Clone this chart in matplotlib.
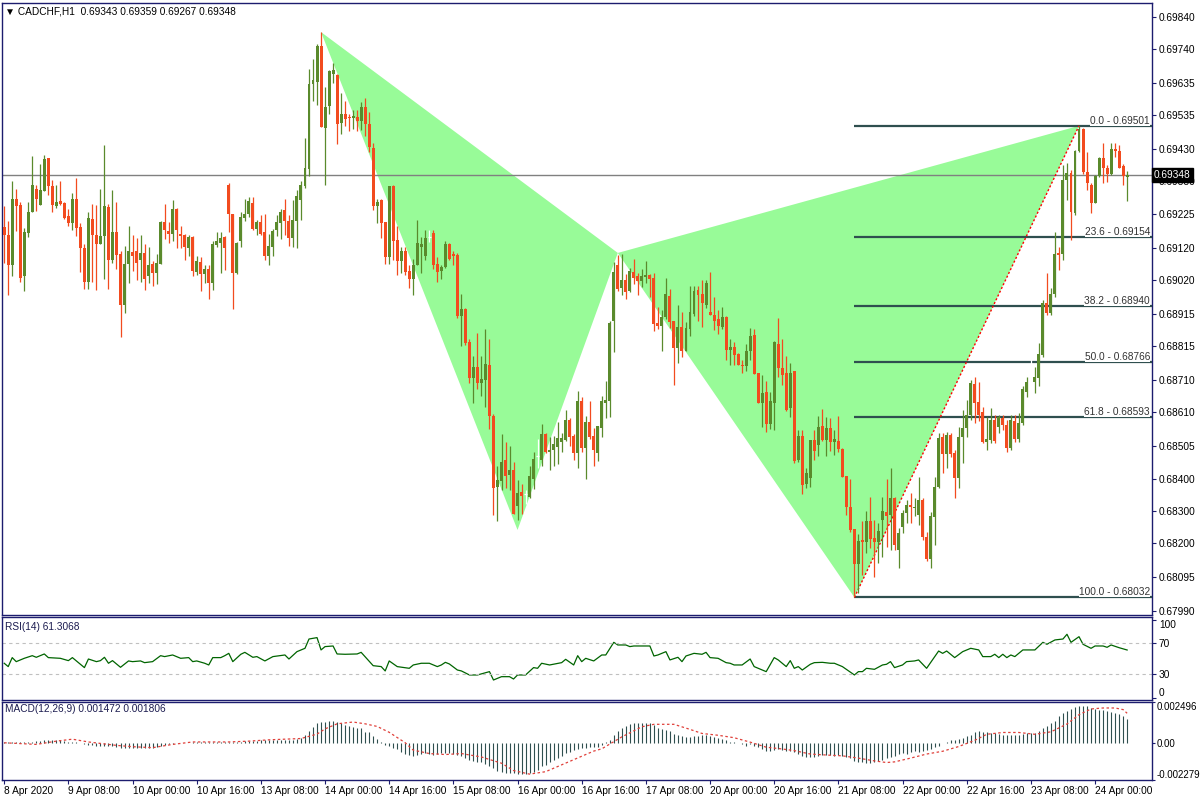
import numpy as np
import matplotlib.pyplot as plt
from matplotlib.transforms import blended_transform_factory

plt.rcParams['font.family'] = ['Liberation Sans', 'DejaVu Sans']

# ---------------------------------------------------------------- data
symbol = 'CADCHF,H1'
header_ohlc = ['0.69343', '0.69359', '0.69267', '0.69348']

# hourly candles, prices in points (1 point = 0.00001)
open_pts = [
    69187, 69161, 69066, 69273, 69255, 69032, 69166, 69231, 69305, 69253,
    69299, 69401, 69315, 69250, 69267, 69261, 69220, 69197, 69273, 69186,
    69121, 69016, 69211, 69161, 69134, 69159, 69248, 69084, 69169, 69103,
    68944, 69069, 69109, 69112, 69084, 69106, 69032, 69072, 69044, 69072,
    69200, 69172, 69165, 69242, 69165, 69162, 69119, 69156, 69047, 69078,
    69038, 69056, 69010, 69131, 69137, 69156, 69317, 69227, 69041, 69141,
    69215, 69227, 69261, 69181, 69200, 69169, 69094, 69125, 69175, 69197,
    69240, 69206, 69150, 69206, 69271, 69312, 69368, 69632, 69638, 69750,
    69493, 69564, 69663, 69660, 69511, 69539, 69527, 69524, 69527, 69517,
    69560, 69508, 69433, 69250, 69271, 69200, 69091, 69312, 69146, 69080,
    69110, 69050, 69025, 69066, 69125, 69094, 69155, 69167, 69070, 69050,
    69060, 69134, 69101, 69100, 68910, 68931, 68826, 68716, 68749, 68699,
    68710, 68756, 68596, 68377, 68395, 68460, 68412, 68429, 68317, 68361,
    68353, 68346, 68400, 68472, 68460, 68541, 68486, 68490, 68502, 68517,
    68523, 68585, 68535, 68483, 68643, 68498, 68577, 68535, 68483, 68561,
    68639, 68645, 68893, 69068, 68997, 69020, 68985, 69047, 69033, 69019,
    69029, 69036, 69026, 68887, 68878, 68906, 68971, 68893, 68810, 68874,
    68801, 68869, 68916, 68990, 68977, 68943, 68921, 68912, 68899, 68874,
    68906, 68804, 68812, 68790, 68757, 68754, 68798, 68850, 68731, 68639,
    68672, 68573, 68639, 68821, 68747, 68731, 68622, 68737, 68460, 68535,
    68385, 68405, 68522, 68507, 68566, 68522, 68560, 68517, 68519, 68495,
    68411, 68312, 68245, 68137, 68212, 68203, 68270, 68218, 68206, 68273,
    68299, 68289, 68341, 68180, 68252, 68294, 68320, 68310, 68289, 68336,
    68221, 68151, 68282, 68377, 68531, 68479, 68538, 68481, 68403, 68531,
    68559, 68600, 68697, 68642, 68611, 68517, 68523, 68585, 68564, 68590,
    68569, 68497, 68582, 68525, 68576, 68673, 68756, 68704, 68715, 68787,
    68948, 68917, 68977, 69104, 69102, 69332, 69355, 69228, 69424, 69490,
    69358, 69317, 69262, 69345, 69402, 69369, 69351, 69428, 69422, 69376, 69343,
]
high_pts = [
    69250, 69203, 69330, 69305, 69265, 69184, 69265, 69407, 69317, 69382,
    69410, 69401, 69333, 69317, 69330, 69263, 69242, 69292, 69339, 69199,
    69133, 69233, 69258, 69255, 69305, 69442, 69258, 69301, 69264, 69112,
    69127, 69190, 69162, 69150, 69162, 69134, 69125, 69081, 69103, 69203,
    69259, 69200, 69270, 69245, 69190, 69164, 69162, 69158, 69094, 69091,
    69066, 69066, 69141, 69169, 69169, 69159, 69323, 69227, 69140, 69232,
    69273, 69280, 69280, 69209, 69222, 69225, 69165, 69181, 69222, 69243,
    69273, 69222, 69271, 69302, 69330, 69463, 69678, 69710, 69756, 69794,
    69622, 69675, 69697, 69663, 69604, 69579, 69538, 69551, 69551, 69576,
    69588, 69544, 69446, 69274, 69274, 69200, 69315, 69318, 69190, 69124,
    69122, 69068, 69086, 69208, 69154, 69178, 69175, 69175, 69092, 69068,
    69142, 69136, 69110, 69104, 68977, 68933, 68838, 68784, 68856, 68784,
    68868, 68838, 68603, 68442, 68541, 68516, 68505, 68453, 68398, 68385,
    68368, 68442, 68485, 68524, 68573, 68544, 68532, 68535, 68577, 68544,
    68615, 68591, 68541, 68675, 68657, 68597, 68645, 68561, 68567, 68659,
    68705, 68893, 69078, 69100, 69101, 69038, 69059, 69085, 69042, 69054,
    69080, 69039, 69042, 68938, 68927, 69026, 68993, 68893, 68943, 68921,
    68890, 69002, 69002, 69002, 69021, 69021, 69046, 68968, 68927, 68937,
    68908, 68837, 68828, 68792, 68772, 68821, 68871, 68868, 68731, 68725,
    68706, 68673, 68832, 68902, 68837, 68784, 68762, 68737, 68552, 68552,
    68435, 68522, 68554, 68597, 68619, 68595, 68590, 68554, 68597, 68497,
    68411, 68401, 68245, 68229, 68271, 68301, 68346, 68273, 68263, 68346,
    68400, 68434, 68346, 68247, 68304, 68336, 68356, 68341, 68408, 68341,
    68237, 68299, 68408, 68543, 68543, 68548, 68543, 68491, 68564, 68616,
    68647, 68709, 68720, 68704, 68626, 68595, 68621, 68600, 68600, 68600,
    68585, 68600, 68600, 68605, 68689, 68720, 68782, 68751, 68824, 68959,
    69042, 68995, 69171, 69125, 69379, 69384, 69363, 69426, 69501, 69495,
    69420, 69322, 69348, 69405, 69447, 69379, 69447, 69447, 69441, 69382, 69359,
]
low_pts = [
    69075, 68974, 69032, 69172, 69016, 68985, 69156, 69231, 69237, 69253,
    69299, 69284, 69234, 69246, 69253, 69212, 69190, 69175, 69159, 69047,
    68994, 68994, 69016, 68991, 69134, 69025, 68994, 69075, 69056, 68844,
    68919, 69011, 69050, 69022, 69016, 68991, 69010, 69003, 69007, 69072,
    69147, 69137, 69141, 69119, 69119, 69084, 69097, 69032, 69035, 68985,
    69011, 68961, 68988, 69125, 69041, 69053, 69169, 68929, 69038, 69125,
    69206, 69218, 69175, 69162, 69162, 69084, 69066, 69094, 69159, 69147,
    69162, 69128, 69125, 69119, 69209, 69306, 69346, 69577, 69566, 69496,
    69318, 69539, 69635, 69443, 69477, 69499, 69486, 69492, 69486, 69489,
    69468, 69418, 69240, 69197, 69150, 69069, 69072, 69082, 69035, 69042,
    69035, 68997, 68975, 69066, 69041, 69082, 69140, 69056, 69014, 69024,
    69058, 69083, 69068, 68901, 68815, 68818, 68699, 68639, 68681, 68659,
    68625, 68558, 68290, 68269, 68365, 68374, 68365, 68291, 68273, 68293,
    68323, 68341, 68370, 68436, 68442, 68482, 68430, 68442, 68446, 68484,
    68520, 68504, 68460, 68434, 68486, 68400, 68526, 68442, 68456, 68532,
    68591, 68595, 68796, 68985, 68973, 68963, 68982, 69008, 68974, 69000,
    69010, 68967, 68863, 68868, 68800, 68899, 68870, 68694, 68763, 68782,
    68801, 68846, 68907, 68894, 68875, 68935, 68913, 68865, 68854, 68869,
    68770, 68757, 68757, 68755, 68732, 68738, 68770, 68727, 68637, 68564,
    68548, 68558, 68552, 68720, 68695, 68614, 68595, 68452, 68455, 68355,
    68373, 68375, 68460, 68473, 68520, 68471, 68489, 68474, 68486, 68406,
    68289, 68237, 68032, 68045, 68102, 68169, 68185, 68097, 68138, 68159,
    68190, 68180, 68180, 68123, 68232, 68263, 68263, 68284, 68258, 68211,
    68146, 68123, 68195, 68372, 68418, 68434, 68470, 68341, 68372, 68450,
    68533, 68585, 68574, 68580, 68512, 68491, 68512, 68512, 68543, 68554,
    68486, 68491, 68517, 68517, 68569, 68657, 68699, 68668, 68689, 68782,
    68912, 68912, 68969, 69052, 69083, 69270, 69145, 69223, 69420, 69350,
    69301, 69228, 69260, 69340, 69322, 69327, 69348, 69403, 69369, 69317, 69267,
]
close_pts = [
    69161, 69066, 69273, 69250, 69028, 69169, 69233, 69317, 69273, 69301,
    69398, 69312, 69253, 69264, 69259, 69215, 69197, 69273, 69184, 69119,
    69016, 69214, 69162, 69134, 69158, 69252, 69084, 69169, 69100, 68944,
    69072, 69112, 69097, 69075, 69106, 69025, 69066, 69044, 69075, 69200,
    69175, 69165, 69242, 69175, 69159, 69122, 69156, 69050, 69081, 69038,
    69056, 69010, 69134, 69143, 69153, 69119, 69225, 69044, 69137, 69218,
    69227, 69267, 69181, 69200, 69165, 69094, 69128, 69172, 69200, 69234,
    69203, 69153, 69209, 69281, 69317, 69370, 69632, 69644, 69750, 69496,
    69560, 69672, 69675, 69508, 69539, 69521, 69524, 69533, 69517, 69560,
    69508, 69436, 69250, 69265, 69197, 69091, 69312, 69143, 69080, 69110,
    69047, 69025, 69068, 69136, 69134, 69151, 69155, 69066, 69047, 69062,
    69134, 69085, 69094, 68910, 68931, 68824, 68716, 68750, 68699, 68713,
    68760, 68596, 68374, 68398, 68454, 68410, 68430, 68293, 68358, 68349,
    68353, 68410, 68464, 68472, 68541, 68484, 68490, 68511, 68527, 68527,
    68585, 68532, 68483, 68643, 68496, 68579, 68532, 68490, 68565, 68643,
    68647, 68887, 69047, 68994, 69020, 68982, 69048, 69026, 69019, 69033,
    69036, 69024, 68884, 68878, 68906, 68977, 68891, 68810, 68874, 68801,
    68871, 68921, 68987, 68974, 68950, 69011, 68913, 68894, 68878, 68906,
    68804, 68812, 68787, 68757, 68754, 68800, 68846, 68729, 68639, 68670,
    68573, 68644, 68828, 68745, 68726, 68616, 68731, 68458, 68535, 68382,
    68420, 68522, 68488, 68563, 68522, 68560, 68517, 68526, 68493, 68408,
    68312, 68242, 68137, 68209, 68203, 68270, 68215, 68206, 68239, 68302,
    68284, 68341, 68195, 68232, 68294, 68320, 68313, 68313, 68336, 68219,
    68151, 68284, 68377, 68528, 68479, 68538, 68479, 68403, 68533, 68559,
    68600, 68699, 68639, 68600, 68517, 68525, 68585, 68520, 68595, 68569,
    68497, 68585, 68525, 68576, 68680, 68702, 68756, 68720, 68789, 68948,
    68917, 68977, 69102, 69099, 69332, 69355, 69232, 69424, 69490, 69358,
    69324, 69260, 69346, 69402, 69369, 69351, 69428, 69422, 69369, 69345, 69348,
]

time_labels = ['8 Apr 2020', '9 Apr 08:00', '10 Apr 00:00', '10 Apr 16:00',
               '13 Apr 08:00', '14 Apr 00:00', '14 Apr 16:00', '15 Apr 08:00',
               '16 Apr 00:00', '16 Apr 16:00', '17 Apr 08:00', '20 Apr 00:00',
               '20 Apr 16:00', '21 Apr 08:00', '22 Apr 00:00', '22 Apr 16:00',
               '23 Apr 08:00', '24 Apr 00:00']
label_step = 16

price_ticks = [0.69840, 0.69740, 0.69635, 0.69535, 0.69430, 0.69330, 0.69225,
               0.69120, 0.69020, 0.68915, 0.68815, 0.68710, 0.68610, 0.68505,
               0.68400, 0.68300, 0.68200, 0.68095, 0.67990]
current_price = 0.69348

# harmonic pattern X, A, B, C, D
pattern_bars = [79, 128, 153, 212, 268]
pattern_prices = [0.69793, 0.68242, 0.69105, 0.68032, 0.69501]

fib_levels = ['0.0', '23.6', '38.2', '50.0', '61.8', '100.0']
fib_prices = [0.69501, 0.69154, 0.68940, 0.68766, 0.68593, 0.68032]

rsi_bars = [0, 1, 2, 3, 5, 7, 8, 10, 11, 14, 16, 17, 18, 20, 21, 23, 24, 25, 26, 27,
            29, 31, 32, 34, 35, 37, 39, 40, 42, 44, 46, 47, 48, 50, 51, 52, 54, 55, 56, 57,
            59, 60, 62, 63, 65, 67, 70, 71, 73, 75, 76, 78, 79, 80, 82, 83, 85, 88, 89, 92,
            94, 95, 96, 98, 101, 102, 104, 106, 108, 109, 110, 111, 113, 114, 116, 118, 121,
            122, 124, 126, 127, 128, 130, 132, 133, 134, 136, 139, 140, 142, 143, 144, 145,
            147, 149, 150, 152, 153, 155, 156, 157, 161, 162, 163, 165, 166, 168, 169, 170,
            172, 174, 175, 176, 178, 180, 181, 182, 184, 186, 187, 188, 190, 192, 193, 195,
            196, 197, 198, 199, 201, 202, 204, 206, 207, 209, 212, 213, 214, 215, 217, 219,
            220, 221, 222, 224, 225, 227, 228, 230, 233, 234, 235, 237, 239, 241, 243, 244,
            246, 247, 248, 249, 250, 251, 252, 254, 257, 259, 260, 262, 264, 265, 266, 268,
            269, 271, 272, 274, 275, 276, 278, 280]
rsi_values = [44.2, 39.9, 51.5, 46.3, 50.6, 54.0, 51.9, 56.2, 51.5, 50.6, 47.6, 51.5, 47.2,
              38.6, 49.7, 46.3, 47.6, 51.9, 44.2, 47.6, 39.0, 47.2, 46.3, 47.2, 45.0, 46.3,
              54.0, 52.8, 54.9, 50.6, 51.5, 46.3, 47.2, 44.2, 42.0, 51.5, 51.5, 54.0, 57.0,
              46.3, 55.8, 58.3, 51.9, 52.8, 47.2, 52.8, 54.9, 49.7, 59.2, 63.5, 75.5, 77.3,
              61.4, 65.7, 66.5, 56.2, 55.8, 56.2, 58.3, 41.1, 39.9, 34.3, 47.2, 39.9, 37.7,
              42.0, 44.2, 44.2, 39.9, 42.0, 45.4, 43.3, 35.5, 34.3, 29.1, 29.1, 33.4, 22.6,
              26.9, 26.9, 23.9, 29.1, 29.1, 38.6, 37.7, 44.2, 42.0, 45.0, 49.3, 42.0, 54.0,
              46.3, 50.6, 47.2, 54.9, 54.9, 71.2, 67.8, 67.8, 65.7, 66.5, 66.5, 53.6, 54.9,
              59.2, 48.5, 51.9, 46.3, 53.6, 57.0, 55.8, 58.3, 51.5, 50.6, 45.0, 44.2, 42.0,
              42.0, 49.7, 39.9, 37.7, 33.4, 51.5, 48.5, 39.9, 47.6, 37.7, 39.9, 35.5, 42.9,
              45.0, 45.4, 44.2, 44.2, 39.9, 29.1, 33.4, 33.4, 37.7, 36.4, 42.0, 42.9, 46.3,
              38.6, 42.0, 46.3, 47.2, 48.5, 37.7, 60.0, 57.0, 60.0, 51.5, 59.2, 63.5, 61.4,
              52.8, 52.8, 55.8, 51.5, 55.8, 51.5, 54.9, 52.8, 61.4, 61.4, 71.2, 68.7, 74.3,
              75.5, 81.6, 71.2, 78.5, 68.7, 63.5, 66.5, 66.5, 64.8, 67.8, 64.3, 61.3068]
rsi_last = '61.3068'
rsi_ticks = [0, 30, 70, 100]

# MACD main line (histogram) and signal, in millionths
macd_micro = [
    30, 40, 50, 40, 30, 20, 30, 60, 80, 120,
    180, 200, 190, 170, 140, 100, 60, 50, 30, -20,
    -80, -120, -150, -170, -180, -200, -180, -220, -250, -300,
    -300, -290, -300, -320, -310, -300, -300, -290, -230, -180,
    -120, -100, -60, -30, -20, -10, 10, 20, 30, 30,
    40, 30, 40, 60, 50, 40, 30, 20, 40, 60,
    80, 100, 120, 130, 150, 150, 140, 150, 170, 190,
    200, 190, 200, 230, 300, 470, 740, 950, 1200, 1270,
    1300, 1350, 1350, 1270, 1200, 1100, 1000, 950, 890, 890,
    680, 640, 390, 220, 20, -160, -200, -300, -400, -580,
    -680, -720, -780, -720, -660, -620, -680, -720, -680, -620,
    -620, -620, -660, -720, -780, -930, -1040, -1100, -1160, -1200,
    -1290, -1410, -1560, -1710, -1770, -1830, -1830, -1870, -1920, -1920,
    -1920, -1870, -1770, -1660, -1450, -1350, -1200, -1040, -930, -780,
    -620, -580, -450, -370, -300, -300, -260, -240, -240, -120,
    40, 190, 460, 710, 880, 1000, 1130, 1190, 1230, 1230,
    1230, 1190, 1090, 880, 820, 770, 710, 560, 500, 400,
    360, 360, 420, 440, 460, 460, 420, 360, 310, 250,
    190, 20, 40, -20, -100, -170, -60, -170, -270, -380,
    -520, -520, -440, -380, -440, -480, -480, -590, -690, -800,
    -900, -900, -860, -800, -730, -730, -750, -800, -750, -800,
    -900, -940, -1110, -1170, -1170, -1210, -1210, -1170, -1110, -1070,
    -940, -860, -800, -690, -650, -690, -590, -520, -590, -480,
    -440, -380, -270, -170, 10, 40, 150, 190, 250, 310,
    440, 500, 630, 710, 670, 630, 570, 570, 520, 500,
    460, 460, 500, 500, 520, 570, 570, 610, 710, 880,
    1000, 1190, 1360, 1610, 1820, 1970, 2090, 2200, 2280, 2280,
    2240, 2130, 2070, 2030, 1990, 1930, 1880, 1820, 1760, 1650, 1472,
]
signal_bars = [0, 8, 13, 17, 21, 28, 32, 37, 42, 47, 56, 61, 66, 74, 78, 80, 83, 87, 90, 93,
               96, 100, 102, 106, 110, 114, 119, 124, 127, 131, 135, 139, 143, 147, 149, 154,
               159, 162, 167, 171, 174, 178, 182, 186, 190, 194, 197, 201, 205, 209, 213, 217,
               220, 222, 226, 230, 234, 238, 242, 245, 249, 253, 257, 261, 265, 268, 271, 274,
               277, 279, 280]
signal_micro = [0, -100, 100, 220, 50, -160, -240, -300, -100, 50, 50, 100, 180, 260, 530,
                850, 1160, 1270, 1160, 1000, 640, 0, -450, -660, -720, -660, -870, -1250,
                -1700, -1920, -1770, -1350, -930, -510, -370, 360, 980, 1130, 1130, 820, 570,
                460, 310, 40, -270, -380, -480, -690, -750, -800, -940, -1110, -1210, -1170,
                -940, -690, -520, -230, 150, 520, 630, 630, 520, 670, 1150, 1720, 2070, 2130,
                2130, 2030, 1806]
macd_last = ['0.001472', '0.001806']
macd_ticks = [-0.002279, 0.0, 0.002496]
macd_tick_labels = ['-0.002279', '0.00', '0.002496']

# ---------------------------------------------------------------- style
BULL = '#5A8A2C'
BEAR = '#F24B1F'
DOJI = '#FFFFFF'
FILL = '#98FB98'
FRAME = '#1C1C6E'
FIB = '#2F4F4F'
FS = 7.3

W, H = 1200, 800


def px_box(top, bottom, left=2, right=1152):
    return [left / W, 1 - bottom / H, (right - left) / W, (bottom - top) / H]


fig = plt.figure(figsize=(12, 8), dpi=100)
ax = fig.add_axes(px_box(3, 615))
ax_rsi = fig.add_axes(px_box(617, 700))
ax_macd = fig.add_axes(px_box(702, 780))

xlim = (-0.55, 286.2)
for a in (ax, ax_rsi, ax_macd):
    a.set_xlim(*xlim)
    for s in a.spines.values():
        s.set_color(FRAME)
        s.set_linewidth(1.0)
    a.yaxis.tick_right()
    a.tick_params(axis='y', length=3, width=0.8, pad=2, labelsize=FS,
                  color=FRAME, labelcolor='black')

# ---------------------------------------------------------------- price panel
o = np.array(open_pts) / 1e5
h = np.array(high_pts) / 1e5
l = np.array(low_pts) / 1e5
c = np.array(close_pts) / 1e5
x = np.arange(len(c))

ax.fill(pattern_bars[:3], pattern_prices[:3], color=FILL, lw=0, zorder=1)
ax.fill(pattern_bars[2:], pattern_prices[2:], color=FILL, lw=0, zorder=1)
ax.axhline(current_price, color='#808080', lw=1.0, zorder=2)

ax.hlines(fib_prices, pattern_bars[3], xlim[1], color=FIB, lw=1.6, zorder=3)
for lev, p in zip(fib_levels, fib_prices):
    ax.text(xlim[1] - 0.5, p, f'{lev} - {p:.5f}', ha='right', va='bottom',
            fontsize=FS, color='#333333', zorder=3.2,
            bbox=dict(fc='white', ec='none', pad=0.0))
ax.plot(pattern_bars[3:], pattern_prices[3:], color='#FF0000', lw=1.0,
        ls=(0, (1.5, 1.5)), zorder=3.5)

up, down, flat = c > o, c < o, c == o
for mask, col in ((up, BULL), (down, BEAR), (flat, DOJI)):
    ax.vlines(x[mask], l[mask], h[mask], color=col, lw=0.9, zorder=4)
ax.bar(x[up], (c - o)[up], bottom=o[up], width=0.74, color=BULL, lw=0, zorder=5)
ax.bar(x[down], (o - c)[down], bottom=c[down], width=0.74, color=BEAR, lw=0, zorder=5)
ax.hlines(c[flat], x[flat] - 0.4, x[flat] + 0.4, color=DOJI, lw=0.9, zorder=5)

ax.set_ylim(0.679771, 0.698836)
ax.set_yticks(price_ticks)
ax.set_yticklabels([f'{p:.5f}' for p in price_ticks])
ax.set_xticks([])

tr = blended_transform_factory(ax.transAxes, ax.transData)
ax.text(1.0015, current_price, f'{current_price:.5f}', transform=tr, ha='left',
        va='center', fontsize=FS, color='white', zorder=10, clip_on=False,
        bbox=dict(boxstyle='square,pad=0.2', fc='black', ec='black'))

fig.text(5 / W, 1 - 12 / H, '\u25BC ' + symbol + '  ' + ' '.join(header_ohlc),
         fontsize=FS, va='center', color='black')

# ---------------------------------------------------------------- RSI panel
ax_rsi.plot(rsi_bars, rsi_values, color='#006400', lw=0.9)
for lvl in (30, 70):
    ax_rsi.axhline(lvl, color='#C0C0C0', lw=0.8, ls=(0, (3, 3)))
ax_rsi.set_ylim(-3.2, 103.9)
ax_rsi.set_yticks(rsi_ticks)
ax_rsi.set_yticklabels([str(t) for t in rsi_ticks])
lbls = ax_rsi.get_yticklabels()
lbls[0].set_va('bottom')
lbls[-1].set_va('top')
ax_rsi.set_xticks([])
fig.text(5 / W, 1 - 627 / H, f'RSI(14) {rsi_last}', fontsize=FS, va='center',
         color='#1C1C50')

# ---------------------------------------------------------------- MACD panel
hist = np.array(macd_micro) / 1e6
ax_macd.vlines(x, 0, hist, color=FIB, lw=0.8)
ax_macd.plot(signal_bars, np.array(signal_micro) / 1e6, color='#E0403A', lw=0.9,
             ls=(0, (2, 2)))
ax_macd.set_ylim(macd_ticks[0], macd_ticks[-1])
ax_macd.set_yticks(macd_ticks)
ax_macd.set_yticklabels(macd_tick_labels)
ax_macd.tick_params(axis='y', length=2, pad=1, labelsize=7.0)
lbls = ax_macd.get_yticklabels()
lbls[0].set_va('bottom')
lbls[-1].set_va('top')
fig.text(5 / W, 1 - 709 / H, 'MACD(12,26,9) ' + ' '.join(macd_last), fontsize=FS,
         va='center', color='#1C1C50')

ax_macd.set_xticks(np.arange(len(time_labels)) * label_step)
ax_macd.set_xticklabels(time_labels)
for t in ax_macd.get_xticklabels():
    t.set_ha('left')
ax_macd.tick_params(axis='x', length=3, width=0.8, pad=1, labelsize=FS,
                    color=FRAME, labelcolor='black')

fig.savefig('out.png', dpi=100)
